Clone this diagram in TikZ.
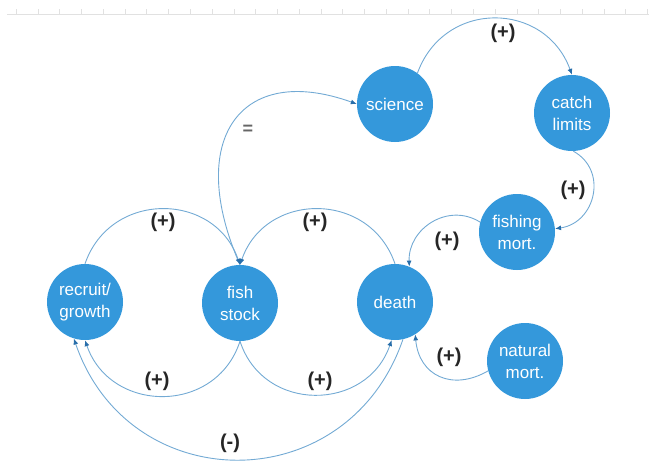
\documentclass[tikz,border=0pt]{standalone}
\usepackage{fontspec}
\setmainfont{Liberation Sans}
\usetikzlibrary{arrows.meta}
\definecolor{nodeblue}{RGB}{52,152,219}
\definecolor{linkblue}{RGB}{115,170,212}
\definecolor{tipblue}{RGB}{40,110,170}
\definecolor{rulergray}{RGB}{225,225,225}
\tikzset{
  circ/.style={circle, fill=nodeblue, draw=none, minimum size=76pt, inner sep=0pt,
    text=white, align=center, font=\fontsize{17}{22}\selectfont},
  link/.style={draw=linkblue, line width=0.9pt,
    -{Latex[length=6pt,width=5pt,color=tipblue]}},
  lbl/.style={text=black!85, font=\bfseries\fontsize{20}{24}\selectfont, inner sep=0pt},
  eqlbl/.style={text=black!60, font=\bfseries\fontsize{18}{20}\selectfont, inner sep=0pt}
}
\begin{document}
\begin{tikzpicture}[x=1pt,y=1pt]
\useasboundingbox (0,0) rectangle (649,-463);

% ruler strip along the top edge
\draw[rulergray, line width=0.8pt] (7,-14) -- (649,-14);
\foreach \k in {-1,...,28}
  \draw[rulergray, line width=0.8pt] ({38+21.77*\k},-14) -- ++(0,5);

% stocks and flows
\node[circ] (recruit) at (85,-302) {recruit/\\growth};
\node[circ] (fish)    at (240,-303) {fish\\stock};
\node[circ] (death)   at (395,-302) {death};
\node[circ] (fishing) at (517,-232) {fishing\\mort.};
\node[circ] (natural) at (525,-361) {natural\\mort.};
\node[circ] (science) at (395,-104) {science};
\node[circ] (catch)   at (572,-113) {catch\\limits};

% management loop
\draw[link] (science.54) to[out=70,in=110,looseness=1.3] (catch.90);
\draw[link] (catch.-88) to[out=-29,in=8,looseness=1.3] (fishing.5);
\draw[link] (fishing.165) to[out=148,in=92,looseness=1.16] (death.68);
\draw[link] (natural.195) to[out=210,in=-85,looseness=1.3] (death.-58);
\draw[link] (fish.90) .. controls (185,-140) and (240,-62) .. (science.180);

% population loops
\draw[link] (recruit.90) to[out=71,in=109,looseness=1.28] (fish.90);
\draw[link] (death.90) to[out=109,in=71,looseness=1.28] (fish.90);
\draw[link] (fish.-90) to[out=-108,in=-71,looseness=1.28] (recruit.-90);
\draw[link] (fish.-90) to[out=-72,in=-109,looseness=1.28] (death.-95);
\draw[link] (death.-78) to[out=-109,in=-71,looseness=1.32] (recruit.-107);

% polarity labels
\node[lbl] (p1) at (503,-33) {(+)};
\node[lbl] (p2) at (573,-190) {(+)};
\node[lbl] (p3) at (447,-241) {(+)};
\node[lbl] (p4) at (449,-357) {(+)};
\node[eqlbl] (p5) at (248,-130) {=};
\node[lbl] (p6) at (163,-222) {(+)};
\node[lbl] (p7) at (315,-222) {(+)};
\node[lbl] (p8) at (157,-381) {(+)};
\node[lbl] (p9) at (320,-381) {(+)};
\node[lbl] (p10) at (230,-443) {(-)};
\end{tikzpicture}
\end{document}
